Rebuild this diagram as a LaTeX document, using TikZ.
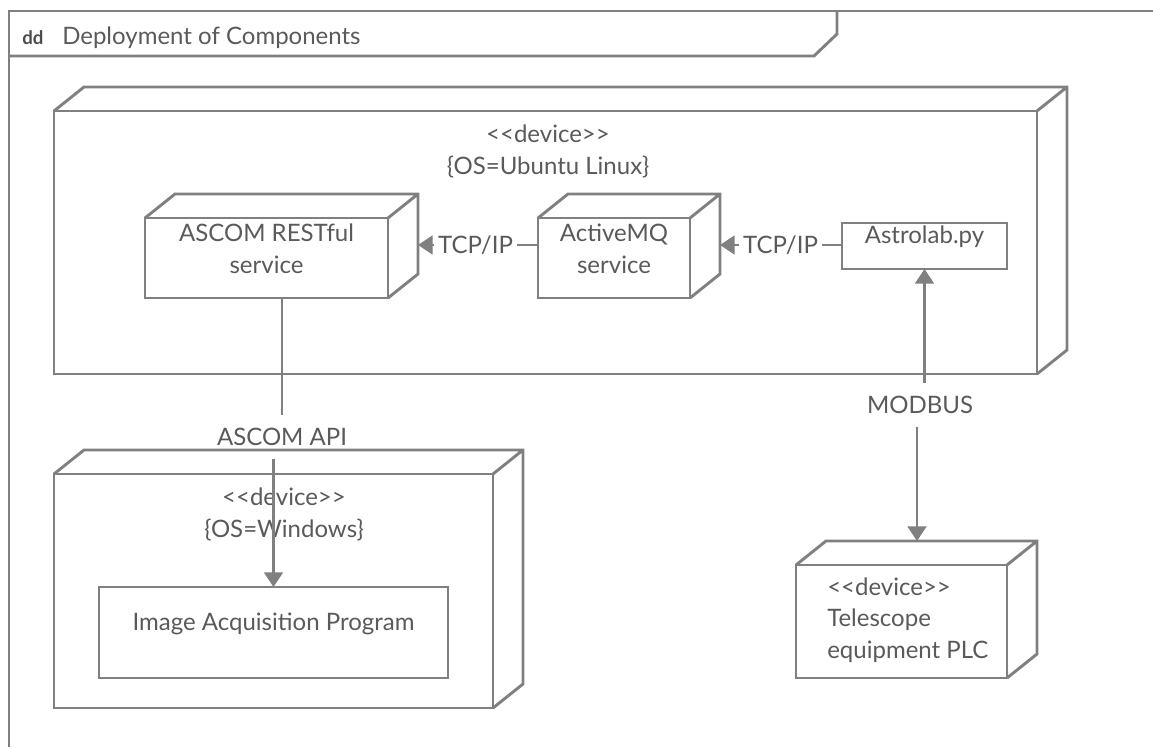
\documentclass[tikz,border=0pt]{standalone}
\usepackage{fontspec}
\newfontfamily\umlfont{Lato}
\usetikzlibrary{arrows.meta,positioning,calc,fit}
\definecolor{umlgray}{RGB}{128,128,128}
\definecolor{umltext}{RGB}{90,90,90}
\newcommand{\stereo}[1]{\textless\textless#1\textgreater\textgreater}
\tikzset{
  umlline/.style={draw=umlgray, line width=2.2pt},
  umlarrow/.style={umlline, -{Triangle[length=11pt, width=14pt]}},
  umlbox/.style={umlline, fill=white, inner sep=0pt, outer sep=0pt, align=center},
  conlabel/.style={inner xsep=3pt, inner ysep=0pt, minimum height=33pt},
}
% back faces of a node box
\newcommand{\nodedepth}[1]{%
  \draw[umlline] (#1.north west) -- ++(30,-24) coordinate (#1-bl)
    -- ($(#1.north east)+(30,-24)$) coordinate (#1-br)
    -- ($(#1.south east)+(30,-24)$) -- (#1.south east)
    (#1.north east) -- (#1-br);}

\begin{document}
\begin{tikzpicture}[x=0.75pt, y=-0.75pt, font=\umlfont\fontsize{18}{24}\selectfont, text=umltext]
\useasboundingbox (0,0) rectangle (1153,747);

% Frame
\draw[umlline] (9,747) -- (9,11) -- (1153,11);
\draw[umlline] (9,56) -- (814,56) -- (837,34) -- (837,11);
\node[anchor=base west, inner sep=0pt, text=black!70, font=\umlfont\fontsize{14}{16}\selectfont\bfseries] (ddtag) at (22,44) {dd};
\node[anchor=base west, inner sep=0pt, font=\umlfont\fontsize{18}{20}\selectfont] (title) at (62,44) {Deployment of Components};

% Ubuntu device
\node[umlbox, fit={(54,111) (1037,374)}] (ubuntu) {};
\nodedepth{ubuntu}
\node[align=center] (ubuntulbl) at (548,151) {\stereo{device}\\\{OS=Ubuntu Linux\}};

\node[umlbox, fit={(145,218) (388,298)}] (ascom) {ASCOM RESTful\\service};
\nodedepth{ascom}
\node[umlbox, fit={(538,218) (690,298)}] (amq) {ActiveMQ\\service};
\nodedepth{amq}
\node[umlbox, fit={(842,223) (1007,269)}] (astro) {Astrolab.py};

\node[conlabel] (tcpa) at (475.5,245) {TCP/IP};
\node[conlabel] (tcpb) at (780.5,245) {TCP/IP};
\draw[umlarrow] (tcpa.west) -- (tcpa.west -| ascom-br);
\draw[umlline] (tcpa.east) -- (tcpa.east -| amq.west);
\draw[umlarrow] (tcpb.west) -- (tcpb.west -| amq-br);
\draw[umlline] (tcpb.east) -- (tcpb.east -| astro.west);

% Windows device
\node[umlbox, fit={(54,474) (493,708)}] (win) {};
\nodedepth{win}
\node[align=center] (winlbl) at (284,514) {\stereo{device}\\\{OS=Windows\}};
\node[umlbox, fit={(99,587) (448,678)}] (acq) {Image Acquisition Program};

% PLC device
\node[umlbox, fit={(796,565) (1007,678)}] (plc) {};
\nodedepth{plc}
\node[align=left, anchor=west, inner sep=0pt, font=\umlfont\fontsize{18}{23.6}\selectfont] (plclbl) at (827,620) {\stereo{device}\\Telescope\\equipment PLC};

% ASCOM API
\node[conlabel] (api) at (282,437) {ASCOM API};
\draw[umlline] (api.north) -- (api.north |- ascom.south);
\draw[umlarrow] (api.south -| acq.north) -- (acq.north);

% MODBUS
\node[conlabel] (modbus) at (920,405) {MODBUS};
\draw[umlarrow] (modbus.north -| astro.south) -- (astro.south);
\draw[umlarrow] ([xshift=-2.25pt]modbus.south) -- ([xshift=-2.25pt]modbus.south |- plc-bl);
\end{tikzpicture}
\end{document}
